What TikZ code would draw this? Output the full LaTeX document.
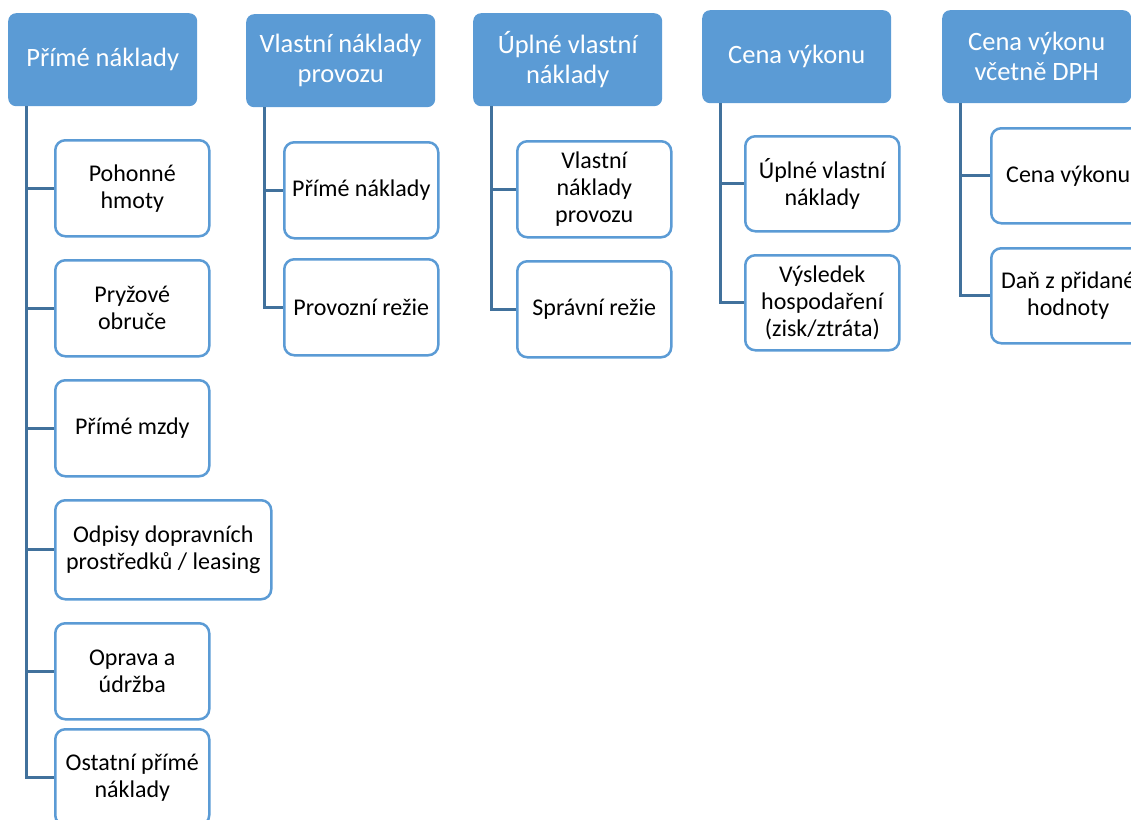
\documentclass[tikz,border=0pt]{standalone}
\usepackage{fontspec}
\setmainfont{Carlito}
\definecolor{hdrc}{HTML}{5B9BD5}
\definecolor{lnc}{HTML}{41719C}
\tikzset{
  hdr/.style={rectangle, rounded corners=8pt, fill=hdrc, text=white, font=\fontsize{26.5}{30}\selectfont, align=center, minimum width=189pt, minimum height=93pt, inner sep=0pt, anchor=north west},
  child/.style={rectangle, rounded corners=10pt, draw=hdrc, line width=2.5pt, fill=white, text=black, font=\fontsize{24}{27}\selectfont, align=center, minimum width=154pt, minimum height=96pt, inner sep=0pt, anchor=north west},
  conn/.style={draw=lnc, line width=3pt}
}
\begin{document}
\begin{tikzpicture}[x=1pt,y=-1pt]
\useasboundingbox (0,0) rectangle (1131,819);
\clip (0,0) rectangle (1131,819);
% headers
\node[hdr] (h1) at (8,13) {Přímé náklady};
\node[hdr] (h2) at (246,14) {Vlastní náklady\\provozu};
\node[hdr] (h3) at (473,13) {Úplné vlastní\\náklady};
\node[hdr] (h4) at (702,10) {Cena výkonu};
\node[hdr] (h5) at (942,10) {Cena výkonu\\včetně DPH};
% column 1
\node[child] (a1) at (54,139) {Pohonné\\hmoty};
\node[child] (a2) at (54,259) {Pryžové\\obruče};
\node[child] (a3) at (54,379) {Přímé mzdy};
\node[child, minimum width=216pt, minimum height=99pt] (a4) at (54,499) {Odpisy dopravních\\prostředků / leasing};
\node[child] (a5) at (54,622) {Oprava a\\údržba};
\node[child] (a6) at (54,728) {Ostatní přímé\\náklady};
% column 2
\node[child] (b1) at (283,141) {Přímé náklady};
\node[child] (b2) at (283,258) {Provozní režie};
% column 3
\node[child] (c1) at (516,140) {Vlastní\\náklady\\provozu};
\node[child] (c2) at (516,260) {Správní režie};
% column 4
\node[child, minimum height=95pt] (d1) at (744,135) {Úplné vlastní\\náklady};
\node[child, minimum height=95pt] (d2) at (744,254) {Výsledek\\hospodaření\\(zisk/ztráta)};
% column 5
\node[child, minimum height=95pt] (e1) at (990,127) {Cena výkonu};
\node[child, minimum height=95pt] (e2) at (990,247) {Daň z přidané\\hodnoty};
% connectors
\foreach \c in {a1,a2,a3,a4,a5,a6} \draw[conn] ([xshift=18pt]h1.south west) |- (\c.west);
\foreach \c in {b1,b2} \draw[conn] ([xshift=18pt]h2.south west) |- (\c.west);
\foreach \c in {c1,c2} \draw[conn] ([xshift=18pt]h3.south west) |- (\c.west);
\foreach \c in {d1,d2} \draw[conn] ([xshift=18pt]h4.south west) |- (\c.west);
\foreach \c in {e1,e2} \draw[conn] ([xshift=18pt]h5.south west) |- (\c.west);
\end{tikzpicture}
\end{document}
